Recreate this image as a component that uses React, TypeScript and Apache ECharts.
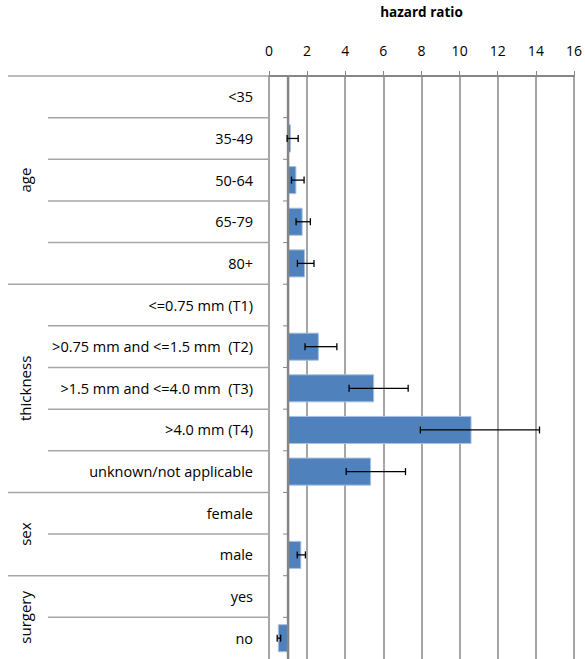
import React, { useEffect, useRef } from "react";
import * as echarts from "echarts";

const categories = [
  "<35", "35-49", "50-64", "65-79", "80+",
  "<=0.75 mm (T1)", ">0.75 mm and <=1.5 mm  (T2)", ">1.5 mm and <=4.0 mm  (T3)", ">4.0 mm (T4)", "unknown/not applicable",
  "female", "male",
  "yes", "no",
];
const groupNames = ["age", "thickness", "sex", "surgery"];
const groupStarts = [0, 5, 10, 12];
const groupSizes = [5, 5, 2, 2];
// hazard ratios (null = reference category, HR 1)
const hazardRatio = [null, 1.13, 1.41, 1.74, 1.86, null, 2.59, 5.49, 10.6, 5.33, null, 1.67, null, 0.49];
const ciLower = [null, 0.95, 1.18, 1.42, 1.49, null, 1.89, 4.2, 7.94, 4.05, null, 1.48, null, 0.43];
const ciUpper = [null, 1.53, 1.84, 2.17, 2.36, null, 3.56, 7.3, 14.19, 7.16, null, 1.91, null, 0.61];
const xTicks = { min: 0, max: 16, interval: 2 };
const referenceValue = 1;

const FONT = "'Open Sans', 'Noto Sans', sans-serif";
const FS = 14.5;

export default function App() {
  const ref = useRef<HTMLDivElement>(null);
  useEffect(() => {
    if (!ref.current) return;
    const chart = echarts.init(ref.current, null, { renderer: "svg" });

    const barData = hazardRatio
      .map((v, i) => (v == null ? null : [i, v]))
      .filter((d) => d !== null);
    const errData = hazardRatio
      .map((v, i) => (v == null ? null : [i, ciLower[i], ciUpper[i]]))
      .filter((d) => d !== null);
    const boundaries = Array.from({ length: categories.length + 1 }, (_, k) => [
      k,
      groupStarts.includes(k) || k === categories.length ? 1 : 0,
    ]);
    const groupData = groupNames.map((n, g) => [groupStarts[g], groupSizes[g], n]);

    const option: any = {
      animation: false,
      textStyle: { fontFamily: FONT },
      grid: { left: 269, right: 9, top: 74, bottom: 0, containLabel: false },
      xAxis: {
        type: "value",
        position: "top",
        min: xTicks.min,
        max: xTicks.max,
        interval: xTicks.interval,
        name: "hazard ratio",
        nameLocation: "middle",
        nameGap: 57,
        nameTextStyle: { fontWeight: "bold", fontSize: 13.5, color: "#000", fontFamily: FONT },
        axisLine: { show: true, lineStyle: { color: "#868686", width: 2 } },
        axisTick: { show: true, inside: false, length: 5, lineStyle: { color: "#868686", width: 1 } },
        axisLabel: { fontSize: 14, color: "#000", margin: 19, fontFamily: FONT },
        splitLine: { show: true, lineStyle: { color: "#a6a6a6", width: 2 } },
      },
      yAxis: {
        type: "category",
        inverse: true,
        data: categories,
        axisLine: { show: false },
        axisTick: { show: false },
        splitLine: { show: false },
        axisLabel: { fontSize: FS, color: "#000", margin: 16, fontFamily: FONT },
      },
      series: [
        {
          type: "custom",
          name: "frame",
          silent: true,
          clip: false,
          z: 3,
          data: boundaries,
          renderItem: (params: any, api: any) => {
            const k = api.value(0);
            const isGroup = api.value(1) === 1;
            const bw = api.size([0, 1])[1];
            const n = categories.length;
            const y =
              k < n ? api.coord([0, k])[1] - bw / 2 : api.coord([0, n - 1])[1] + bw / 2;
            const x0 = api.coord([0, 0])[0];
            const x1 = api.coord([referenceValue, 0])[0];
            const children: any[] = [];
            if (k < n) {
              children.push({
                type: "line",
                shape: { x1: isGroup ? 8 : 48, y1: y, x2: x0, y2: y },
                style: { stroke: "#a6a6a6", lineWidth: 1.5 },
              });
              children.push({
                type: "line",
                shape: { x1: x1 - 5, y1: y, x2: x1, y2: y },
                style: { stroke: "#868686", lineWidth: 1 },
              });
            }
            if (k === 0) {
              const yb = api.coord([0, n - 1])[1] + bw / 2;
              children.push({
                type: "line",
                shape: { x1: x1, y1: y, x2: x1, y2: yb + 2 },
                style: { stroke: "#868686", lineWidth: 2.5 },
              });
            }
            return { type: "group", children };
          },
        },
        {
          type: "custom",
          name: "groups",
          silent: true,
          clip: false,
          data: groupData,
          renderItem: (params: any, api: any) => {
            const start = api.value(0);
            const size = api.value(1);
            const bw = api.size([0, 1])[1];
            const yTop = api.coord([0, start])[1] - bw / 2;
            const y = yTop + (bw * size) / 2;
            return {
              type: "text",
              x: 25,
              y,
              rotation: Math.PI / 2,
              style: {
                text: groupNames[params.dataIndex],
                fontSize: 15,
                fontFamily: FONT,
                fill: "#000",
                align: "center",
                verticalAlign: "middle",
              },
            };
          },
        },
        {
          type: "custom",
          name: "hazard ratio",
          z: 2,
          data: barData,
          encode: { x: 1, y: 0 },
          renderItem: (params: any, api: any) => {
            const idx = api.value(0);
            const v = api.value(1);
            const bw = api.size([0, 1])[1];
            const h = bw * 0.65;
            const p1 = api.coord([referenceValue, idx]);
            const p2 = api.coord([v, idx]);
            const x = Math.min(p1[0], p2[0]);
            const w = Math.abs(p2[0] - p1[0]);
            return {
              type: "rect",
              shape: { x, y: p1[1] - h / 2, width: w, height: h },
              style: { fill: "#4f81bd", stroke: "#a9c1e0", lineWidth: 1 },
            };
          },
        },
        {
          type: "custom",
          name: "CI",
          z: 4,
          data: errData,
          encode: { x: [1, 2], y: 0 },
          renderItem: (params: any, api: any) => {
            const idx = api.value(0);
            const lo = api.coord([api.value(1), idx]);
            const hi = api.coord([api.value(2), idx]);
            const c = 3.5;
            const st = { stroke: "#000", lineWidth: 1.3 };
            return {
              type: "group",
              children: [
                { type: "line", shape: { x1: lo[0], y1: lo[1], x2: hi[0], y2: hi[1] }, style: st },
                { type: "line", shape: { x1: lo[0], y1: lo[1] - c, x2: lo[0], y2: lo[1] + c }, style: st },
                { type: "line", shape: { x1: hi[0], y1: hi[1] - c, x2: hi[0], y2: hi[1] + c }, style: st },
              ],
            };
          },
        },
      ],
    };
    chart.setOption(option);
    return () => chart.dispose();
  }, []);
  return (
    <div
      ref={ref}
      style={{ position: "fixed", left: 0, top: 0, width: 585, height: 659, background: "#fff" }}
    />
  );
}
